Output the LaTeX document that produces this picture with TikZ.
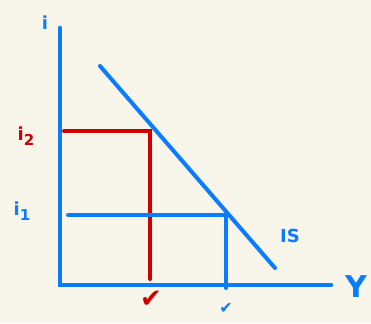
\documentclass[tikz,border=0pt]{standalone}
\usepackage{fontspec}
\setmainfont{DejaVu Sans}
\usepackage{xcolor}
\usetikzlibrary{positioning}

\definecolor{paper}{HTML}{F8F5EA}
\definecolor{penblue}{HTML}{0A7CFF}
\definecolor{penred}{HTML}{D00000}

\newcommand{\sub}[1]{\raisebox{-0.45ex}{\fontsize{15}{15}\selectfont #1}}

\begin{document}
\begin{tikzpicture}[
  x=1pt, y=-1pt,
  axis/.style={penblue, line width=4.5pt, line cap=round},
  bline/.style={penblue, line width=4pt, line cap=round},
  rline/.style={penred, line width=4pt, line cap=round},
  blab/.style={text=penblue, font=\bfseries\fontsize{18}{18}\selectfont, inner sep=0pt},
  rlab/.style={text=penred, font=\bfseries\fontsize{18}{18}\selectfont, inner sep=0pt}
]
% --- paper ---
\fill[paper] (0,0) rectangle (371,323);
\useasboundingbox (0,0) rectangle (371,323);
% --- axes ---
\coordinate (o) at (60,285);
\coordinate (itop) at (60,28);
\coordinate (yend) at (331,285);
\draw[axis] (itop) -- (o) -- (yend);
% --- IS curve ---
\coordinate (is1) at (100,66);
\coordinate (is2) at (275,268);
\draw[bline] (is1) -- (is2);
% --- level i2 (red) ---
\coordinate (r1) at (64,131);
\coordinate (r2) at (150,131);
\coordinate (r3) at (150,279);
\draw[rline] (r1) -- (r2) -- (r3);
% --- level i1 (blue) ---
\coordinate (b1) at (68,215);
\coordinate (b2) at (226,215);
\coordinate (b3) at (226,288);
\draw[bline] (b1) -- (b2) -- (b3);
% --- labels ---
\node[blab] (li) at (45,23) {i};
\node[rlab] (li2) at (26,136) {i\sub{2}};
\node[blab] (li1) at (22,211) {i\sub{1}};
\node[blab] (lis) at (290,236) {IS};
\node[blab, font=\bfseries\fontsize{30}{30}\selectfont] (ly) at (356,287) {Y};
\node[rlab, font=\fontsize{26}{26}\selectfont] (ly2) at (151,299) {✔};
\node[blab, font=\fontsize{16}{16}\selectfont] (ly1) at (226,308) {✔};
\end{tikzpicture}
\end{document}
